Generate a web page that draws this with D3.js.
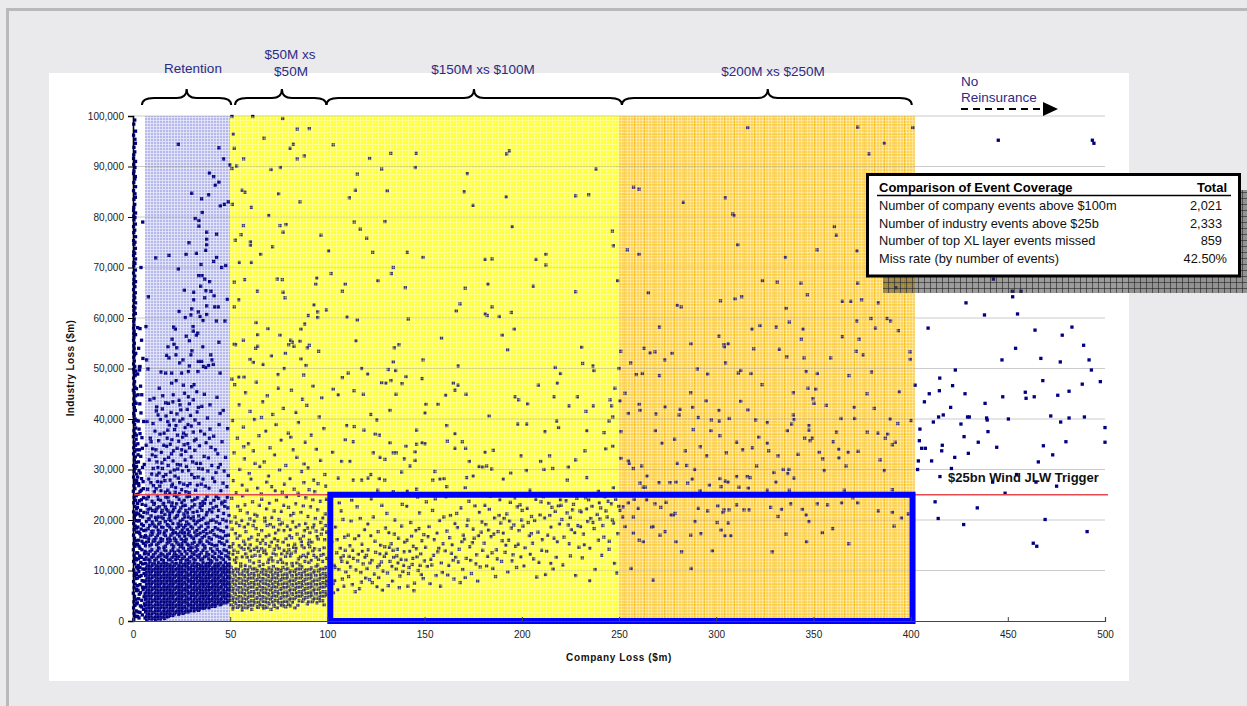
<!DOCTYPE html>
<html><head><meta charset="utf-8">
<script src="https://cdn.jsdelivr.net/npm/d3@7"></script>
<style>
body{margin:0;background:#EAEAEC;}
svg text{font-family:Arial,"Liberation Sans",sans-serif;}
</style></head>
<body><svg id="c" width="1247" height="706"></svg>
<script>
// ---------- axis values ----------
const xTicks=[0,50,100,150,200,250,300,350,400,450,500];
const yTicksBn=[0,10,20,30,40,50,60,70,80,90,100];
const yTickLabels=["0","10,000","20,000","30,000","40,000","50,000","60,000","70,000","80,000","90,000","100,000"];
// layer bands (company loss $m)
const bandNames=["Retention","$50M xs $50M","$150M xs $100M","$200M xs $250M"];
const bandStart=[6.2,50,50,250];
const bandEnd=[50,250,250,402];
const triggerBn=25;
const xlBox=[101.5,401,0,25]; // company x0,x1 / industry y0,y1 ($bn)
// table
const tableRows=["Number of company events above $100m","Number of industry events above $25b","Number of top XL layer events missed","Miss rate (by number of events)"];
const tableVals=["2,021","2,333","859","42.50%"];

// ---------- events: flat [company loss $m, industry loss $bn, ...] ----------
const zeroLossEvents=[0.4,0.3,1.2,0.9,0.6,1.5,1.6,2.0,0.3,2.6,1.0,3.1,0.5,3.8,1.4,4.3,0.8,4.9,0.2,5.5,1.7,6.0,0.6,6.6,1.1,7.3,0.3,7.8,1.5,8.4,0.7,9.0,1.2,9.5,0.4,10.1,1.8,10.7,0.9,11.3,0.3,11.8,1.3,12.4,0.6,13.0,1.6,13.5,0.2,14.1,1.0,14.8,0.5,15.3,1.4,15.9,0.8,16.4,0.3,17.0,1.7,17.6,0.6,18.1,1.1,18.8,0.4,19.3,1.5,19.9,0.7,20.5,1.2,21.0,0.3,21.6,1.8,22.2,0.9,22.7,0.4,23.4,1.3,23.9,0.6,24.5,1.6,25.0,0.2,25.7,1.0,26.2,0.5,26.8,1.4,27.3,0.8,27.9,0.3,28.5,1.7,29.1,0.6,29.6,1.1,30.2,0.4,30.8,1.5,31.4,0.7,31.9,1.2,32.5,0.3,33.1,0.9,33.6,0.4,34.3,1.3,34.8,0.6,35.4,1.6,36.0,0.2,36.5,1.0,37.1,0.5,37.7,1.4,38.2,0.8,38.9,0.3,39.4,1.1,40.0,0.6,40.6,0.4,41.1,1.2,41.7,0.7,42.3,0.3,42.9,0.9,43.4,0.5,44.0,1.3,44.6,0.6,45.2,0.2,45.7,1.0,46.3,0.5,46.9,0.8,47.4,0.3,48.1,1.1,48.6,0.6,49.2,0.4,49.8,0.9,50.4,0.3,50.9,0.7,51.5,0.4,52.2,0.8,52.7,0.3,53.3,0.6,53.9,0.4,54.5,0.7,55.0,0.3,55.6,0.5,56.2,0.4,56.9,0.6,57.4,0.3,58.0,0.5,58.6,0.4,59.3,0.6,59.8,0.4,60.6,0.5,61.5,0.3,62.3,0.4,63.5,0.5,64.4,0.3,65.6,0.4,66.8,0.5,67.6,0.3,68.9,0.4,70.3,0.5,71.0,0.3,72.4,0.4,73.1,0.5,74.6,0.3,75.3,0.4,76.9,0.3,78.1,0.5,79.4,0.4,80.2,0.3,81.3,0.4,81.9,0.5,83.5,0.3,85.2,0.4,86.8,0.3,88.6,0.5,89.1,0.4,90.4,0.3,91.6,0.4,92.3,0.5,93.8,0.3,96.2,0.4,98.4,
1.2,60.9,1.0,62.0,1.3,63.0,0.9,64.0,1.2,65.0,1.0,66.2,1.3,67.2,0.9,68.3,1.2,69.5,1.0,70.8,1.3,71.7,0.9,72.8,1.2,73.8,1.0,75.0,1.3,76.1,0.9,77.4,1.2,78.6,1.0,79.9,1.3,80.8,0.9,82.5,1.2,83.9,1.0,84.6,1.3,86.0,0.9,87.5,1.2,88.0,1.0,89.8,1.3,91.0,0.9,92.9,1.2,94.6,1.0,95.4,1.3,97.0,0.9,99.2,1.6,0.9,1.9,3.4,1.8,6.3,1.9,9.2,1.7,12.1,1.9,15.1,1.8,18.4,1.9,21.4,1.7,24.8,1.9,27.8,1.8,30.6,1.9,33.9,1.7,36.8,1.9,39.7,1.6,43.1,1.8,46.0,1.5,49.5,1.4,53.0,1.3,56.7,
3.1,0.6,4.8,1.2,2.5,1.8,5.4,2.3,3.8,3.0,2.2,3.6,4.5,4.1,5.7,4.8,3.2,5.3,2.6,6.1,4.9,6.7,3.6,7.2,5.5,7.9,2.3,8.5,4.2,9.0,3.0,9.8,5.1,10.3,2.7,11.0,4.0,11.6,5.8,12.2,3.4,12.9,2.4,13.5,4.6,14.1,3.1,14.8,5.3,15.4,2.8,16.0,4.1,16.7,3.5,17.3,5.6,17.9,2.5,18.6,4.4,19.2,3.2,19.9,5.0,20.6,2.9,21.2,3.9,21.9,2.3,22.5,4.7,23.1,3.3,23.8,5.4,24.4,2.6,25.1,4.2,25.9,3.0,26.8,5.2,27.6,2.4,28.5,3.7,29.3,4.9,30.4,2.8,31.5,4.0,32.6,3.3,33.9,2.5,35.1,4.6,36.3,3.1,38.0,2.7,39.6,4.1,41.2,3.5,43.0,2.6,44.8,3.9,46.5,2.4,48.9,3.3,50.3,5.1,52.0,2.9,54.0,4.4,55.6,3.6,57.9,2.4,58.1,4.1,70.0,5.0,79.0,3.4,49.7,7.9,64.2,6.7,58.3,4.5,44.8,3.6,50.4,
2.4,0.9,3.6,1.7,4.4,2.8,5.9,3.4,2.9,4.4,3.9,5.6,5.2,6.2,2.4,7.0,4.7,8.0,3.4,8.8,5.7,9.4,2.5,10.4,3.6,10.6,4.9,11.3,2.8,12.3,4.4,12.6,5.9,13.3,3.6,14.4,2.3,15.2,4.6,15.8,5.8,16.6,3.0,17.6,4.2,18.2,5.3,18.9,2.6,19.8,3.8,20.8,5.6,21.5,2.4,23.3,4.3,24.0,3.6,25.6,5.3,26.2,2.9,27.2,4.4,28.2,3.1,29.8,5.8,31.0,2.6,32.9,4.8,34.2,3.6,37.1,5.5,39.5];

const retentionEvents=[23.3,94.4,44.2,93.7,46.6,91.5,49.9,90.3,39.3,88.7,41.5,88.0,42.3,86.3,44.2,86.9,30.2,84.7,35.3,83.6,38.9,84.4,44.9,82.2,47.0,82.5,49.0,83.0,35.6,80.9,32.0,79.7,33.9,79.3,33.9,78.2,37.9,77.0,43.0,76.6,37.9,75.6,28.8,74.9,37.9,74.5,37.4,73.4,11.7,71.9,18.5,72.4,27.3,72.6,32.6,72.8,43.0,72.0,41.5,71.2,35.0,70.6,47.7,70.4,45.6,70.0,23.3,69.7,33.8,68.4,35.5,68.4,36.9,67.7,39.4,67.2,34.8,66.3,26.4,65.5,31.2,65.1,37.5,65.4,40.1,65.3,31.2,63.6,36.9,64.0,41.7,64.4,48.5,63.7,37.9,62.4,42.0,62.2,43.9,62.2,23.7,61.3,30.2,61.8,33.6,61.2,26.9,60.1,34.5,60.3,29.8,60.6,37.9,60.7,36.0,59.5,42.9,59.4,47.3,59.4,20.9,58.2,21.8,57.8,30.9,58.3,31.0,57.4,33.3,57.0,32.6,56.6,27.4,56.4,29.0,55.5,44.2,55.2,20.1,55.8,21.1,54.8,18.0,54.3,22.5,54.1,35.9,54.3,30.3,53.5,17.3,52.6,22.1,52.7,29.8,52.7,18.5,52.1,40.0,52.7,25.7,51.7,33.6,51.4,35.3,51.4,40.6,51.7,7.0,51.7,7.7,49.9,24.0,51.1,29.0,50.5,36.2,50.4,37.4,50.2,38.9,50.6,41.3,50.8,14.4,49.3,16.8,49.1,19.9,49.1,25.0,49.1,28.5,49.4,33.4,49.4,44.8,49.1,
19.9,47.1,25.9,46.7,30.2,46.4,32.8,45.4,20.7,44.8,28.5,44.4,31.0,43.8,24.2,42.8,12.2,42.4,18.2,43.1,33.6,42.3,39.6,42.8,44.8,41.1,8.7,43.8,
7.5,26.1,9.2,27.4,11.0,25.6,12.3,28.9,13.8,26.7,15.1,30.2,16.4,27.8,17.9,25.9,19.2,29.5,20.6,31.7,21.9,26.4,23.3,28.3,24.8,32.9,26.1,27.1,27.5,30.6,28.9,25.4,30.2,29.0,31.8,33.8,33.1,26.9,34.7,31.2,36.0,28.1,37.6,35.3,39.1,26.3,40.5,30.8,42.0,27.6,43.6,33.1,45.2,25.8,46.9,29.7,48.3,26.6,8.4,31.9,10.1,34.1,11.7,32.6,13.2,35.7,14.6,33.4,16.0,37.2,17.3,34.6,18.7,38.8,20.0,35.9,21.4,37.9,22.7,34.2,24.1,39.6,25.5,36.4,26.8,38.3,28.2,35.1,29.6,40.7,31.0,37.4,32.4,36.0,33.9,39.1,35.4,42.5,36.8,37.0,38.3,40.2,9.6,29.1,12.8,30.4,15.6,28.6,18.3,32.4,21.2,29.9,24.4,30.9,27.1,33.6,30.7,31.5,14.1,39.9,19.6,41.3,23.7,43.7,27.9,41.9,11.3,37.6,16.8,43.2,34.2,34.7,41.5,36.6,44.3,38.9,47.6,32.4,8.9,36.2,26.5,45.1,31.4,46.8,36.7,44.9,22.2,47.6,13.5,46.1,18.9,25.3,25.0,26.0,29.3,27.2,10.5,26.8,16.3,32.0,22.9,36.8,6.8,34.8,7.2,39.5,12.0,41.6,33.5,28.5,38.8,32.3,42.7,29.4,45.8,35.5,49.0,28.8,20.3,27.1,23.9,25.2,14.9,31.3,17.6,36.2,26.3,34.9,30.0,38.6,19.8,33.1,12.6,27.6,9.9,32.9,28.6,29.8,35.7,30.1,40.1,34.4,44.9,31.0,37.2,26.7,32.6,31.2,24.6,41.8,21.0,39.8,17.0,40.6,15.3,44.6,10.8,44.1,26.0,37.2,29.0,43.0,33.0,41.4,39.6,38.0,43.2,44.3,46.4,41.7,48.7,38.1,
8.1,28.1,10.4,30.2,11.9,26.2,13.4,29.3,14.5,27.5,16.9,29.0,18.1,30.8,19.9,26.7,21.6,28.7,22.8,31.0,24.0,27.4,25.4,29.7,26.8,31.9,28.0,26.8,29.9,32.5,31.6,28.4,33.8,30.2,35.1,27.1,36.6,32.6,38.5,29.7,41.0,28.3,43.9,30.4,46.3,27.3,9.3,35.5,11.8,33.9,13.9,37.0,15.8,34.8,17.9,37.8,19.2,35.0,20.8,33.7,22.1,38.7,23.5,35.6,25.0,33.9,27.3,36.8,29.1,34.3,31.6,35.7,34.8,37.6,39.3,36.2,42.4,33.9,12.9,40.8,15.1,42.0,17.9,39.5,20.5,43.4,22.6,41.0,25.6,40.0,28.3,38.9,31.9,39.8,10.3,39.1,14.4,25.8,16.7,25.5,21.7,25.5,27.2,25.6,32.2,25.9,19.1,27.9,23.0,30.1,12.3,31.5,
7.1,24.2,9.8,23.7,12.6,24.8,14.2,23.9,16.9,24.5,18.4,23.6,21.3,24.9,23.7,24.1,25.1,23.5,27.8,24.6,30.4,23.8,33.2,24.4,35.9,23.6,38.1,24.7,41.6,23.9,44.0,24.3,47.3,23.7,
6.6,22.9,8.9,22.3,10.7,23.1,13.5,22.6,15.8,23.3,17.2,22.1,19.9,22.8,22.4,23.2,24.6,22.4,26.9,22.9,29.1,22.2,31.7,23.0,34.5,22.5,36.8,23.3,39.4,22.0,42.9,22.7,45.7,23.2,48.8,22.4,20.8,22.0,11.9,22.0,
7.4,21.4,9.3,20.8,11.4,21.7,13.0,20.6,15.0,21.9,16.4,21.1,18.8,20.7,20.2,21.6,22.9,20.9,24.0,21.8,26.2,21.2,28.4,20.6,30.9,21.5,33.8,20.8,35.4,21.9,37.7,21.0,40.6,21.6,43.5,20.7,46.6,21.3,49.4,20.9,18.0,21.8,27.2,21.9,
6.9,19.7,8.4,20.2,10.2,19.2,12.1,20.0,13.9,19.5,15.5,20.3,17.6,19.1,19.4,19.9,21.6,20.4,23.2,19.3,25.6,20.1,27.6,19.6,29.8,20.3,32.1,19.2,34.0,19.9,36.3,20.4,38.6,19.4,41.2,20.0,44.6,19.3,47.9,19.8,24.7,19.0,31.3,19.9,
7.8,18.3,9.5,17.7,11.1,18.8,12.9,18.0,14.7,18.6,16.2,17.6,18.1,18.9,19.7,18.2,21.8,17.5,23.5,18.7,25.3,18.0,27.0,18.9,28.9,17.7,30.6,18.4,32.8,17.9,35.1,18.8,37.4,18.1,39.8,17.6,42.3,18.5,45.1,17.9,48.2,18.6,13.6,17.5,26.4,17.5,
6.4,16.9,8.1,16.3,10.0,17.2,11.8,16.5,13.3,17.4,15.2,16.1,16.7,16.9,18.6,16.4,20.4,17.3,22.1,16.0,23.9,16.8,25.8,17.4,27.4,16.2,29.4,16.9,31.2,16.3,33.5,17.1,35.6,16.5,38.0,17.3,40.3,16.2,43.1,16.8,46.0,16.4,49.1,17.0,19.3,16.0,34.4,16.0,
7.0,15.6,8.7,14.9,10.4,15.8,12.2,15.1,14.0,15.7,15.9,14.6,17.5,15.4,19.0,15.9,20.9,14.8,22.6,15.5,24.3,14.7,26.0,15.9,27.9,15.2,29.6,14.6,31.5,15.6,33.3,15.0,35.0,15.8,36.9,14.8,39.2,15.4,41.8,14.9,44.4,15.7,47.0,15.1,49.6,14.7,13.1,14.5,25.2,15.3,
6.2,13.8,7.9,13.2,9.7,14.1,11.5,13.5,13.4,14.3,15.3,13.1,16.9,13.9,18.7,13.4,20.5,14.2,22.3,13.0,24.1,13.7,25.9,14.4,27.7,13.3,29.5,13.9,31.4,13.2,33.2,14.1,35.1,13.5,37.0,14.4,39.0,13.1,41.0,13.8,43.3,14.2,45.6,13.4,48.0,13.9,21.4,13.6,30.4,14.5,
6.8,12.5,8.6,12.1,10.3,12.8,12.0,12.3,13.8,12.9,15.6,12.0,17.4,12.6,19.2,12.2,21.0,12.9,22.8,12.4,24.6,12.0,26.4,12.7,28.2,12.2,30.1,12.8,32.0,12.1,33.9,12.6,35.8,12.3,37.8,12.9,39.9,12.0,42.0,12.5,44.2,12.8,46.5,12.2,48.9,12.7,
6.5,11.4,8.7,11.7,11.1,11.3,13.2,11.6,15.6,11.5,17.8,11.2,20.1,11.7,22.4,11.4,24.5,11.6,26.9,11.3,29.2,11.7,31.4,11.5,33.7,11.2,36.0,11.6,38.3,11.4,40.6,11.7,42.8,11.3,45.1,11.5,47.5,11.6,49.6,11.3,
7.4,10.8,9.8,11.0,12.0,10.7,14.3,11.0,16.7,10.9,18.9,10.6,21.2,11.0,23.5,10.8,25.7,10.9,28.0,10.7,30.3,11.0,32.6,10.8,34.8,10.6,37.1,10.9,39.4,11.0,41.7,10.7,44.0,10.9,46.3,10.8,48.6,11.0,
6.2,10.2,8.4,10.4,10.8,10.1,13.0,10.4,15.3,10.3,17.5,10.0,19.9,10.4,22.1,10.2,24.3,10.3,26.6,10.1,28.9,10.4,31.1,10.2,33.4,10.0,35.7,10.3,38.0,10.4,40.3,10.1,42.5,10.3,44.8,10.2,47.2,10.4,49.4,10.1,
7.1,9.6,9.5,9.8,11.7,9.5,14.0,9.8,16.4,9.7,18.6,9.4,20.9,9.8,23.2,9.6,25.4,9.7,27.7,9.5,30.0,9.8,32.3,9.6,34.5,9.4,36.8,9.7,39.1,9.8,41.4,9.5,43.7,9.7,46.0,9.6,48.3,9.8,
6.5,9.0,8.7,9.2,11.1,8.9,13.2,9.2,15.6,9.1,17.8,8.8,20.1,9.2,22.4,9.0,24.5,9.1,26.9,8.9,29.2,9.2,31.4,9.0,33.7,8.8,36.0,9.1,38.3,9.2,40.6,8.9,42.8,9.1,45.1,9.0,47.5,9.2,49.6,8.9,
7.4,8.4,9.8,8.6,12.0,8.3,14.3,8.6,16.7,8.5,18.9,8.2,21.2,8.6,23.5,8.4,25.7,8.5,28.0,8.3,30.3,8.6,32.6,8.4,34.8,8.2,37.1,8.5,39.4,8.6,41.7,8.3,44.0,8.5,46.3,8.4,48.6,8.6,
6.2,7.8,8.4,8.0,10.8,7.7,13.0,8.0,15.3,7.9,17.5,7.6,19.9,8.0,22.1,7.8,24.3,7.9,26.6,7.7,28.9,8.0,31.1,7.8,33.4,7.6,35.7,7.9,38.0,8.0,40.3,7.7,42.5,7.9,44.8,7.8,47.2,8.0,49.4,7.7,
7.1,7.2,9.5,7.4,11.7,7.1,14.0,7.4,16.4,7.3,18.6,7.0,20.9,7.4,23.2,7.2,25.4,7.3,27.7,7.1,30.0,7.4,32.3,7.2,34.5,7.0,36.8,7.3,39.1,7.4,41.4,7.1,43.7,7.3,46.0,7.2,48.3,7.4,
6.5,6.6,8.7,6.8,11.1,6.5,13.2,6.8,15.6,6.7,17.8,6.4,20.1,6.8,22.4,6.6,24.5,6.7,26.9,6.5,29.2,6.8,31.4,6.6,33.7,6.4,36.0,6.7,38.3,6.8,40.6,6.5,42.8,6.7,45.1,6.6,47.5,6.8,49.6,6.5,
7.4,6.0,9.8,6.2,12.0,5.9,14.3,6.2,16.7,6.1,18.9,5.8,21.2,6.2,23.5,6.0,25.7,6.1,28.0,5.9,30.3,6.2,32.6,6.0,34.8,5.8,37.1,6.1,39.4,6.2,41.7,5.9,44.0,6.1,46.3,6.0,48.6,6.2,
6.2,5.4,8.4,5.6,10.8,5.3,13.0,5.6,15.3,5.5,17.5,5.2,19.9,5.6,22.1,5.4,24.3,5.5,26.6,5.3,28.9,5.6,31.1,5.4,33.4,5.2,35.7,5.5,38.0,5.6,40.3,5.3,42.5,5.5,44.8,5.4,47.2,5.6,49.4,5.3,
7.1,4.8,9.5,5.0,11.7,4.7,14.0,5.0,16.4,4.9,18.6,4.6,20.9,5.0,23.2,4.8,25.4,4.9,27.7,4.7,30.0,5.0,32.3,4.8,34.5,4.6,36.8,4.9,39.1,5.0,41.4,4.7,43.7,4.9,46.0,4.8,48.3,5.0,
6.5,4.2,8.7,4.4,11.1,4.1,13.2,4.4,15.6,4.3,17.8,4.0,20.1,4.4,22.4,4.2,24.5,4.3,26.9,4.1,29.2,4.4,31.4,4.2,33.7,4.0,36.0,4.3,38.3,4.4,40.6,4.1,42.8,4.3,45.1,4.2,47.5,4.4,49.6,4.1,
7.4,3.6,9.8,3.8,12.0,3.5,14.3,3.8,16.7,3.7,18.9,3.4,21.2,3.8,23.5,3.6,25.7,3.7,28.0,3.5,30.3,3.8,32.6,3.6,34.8,3.4,37.1,3.7,39.4,3.8,41.7,3.5,44.0,3.7,46.3,3.6,48.6,3.8,
6.2,3.0,8.4,3.2,10.8,2.9,13.0,3.2,15.3,3.1,17.5,2.8,19.9,3.2,22.1,3.0,24.3,3.1,26.6,2.9,28.9,3.2,31.1,3.0,33.4,2.8,35.7,3.1,38.0,3.2,40.3,2.9,42.5,3.1,44.8,3.2,
7.1,2.4,9.5,2.6,11.7,2.3,14.0,2.6,16.4,2.5,18.6,2.2,20.9,2.6,23.2,2.4,25.4,2.5,27.7,2.3,30.0,2.6,32.3,2.4,34.5,2.5,36.8,2.6,39.1,2.6,
6.5,1.8,8.7,2.0,11.1,1.7,13.2,2.0,15.6,1.9,17.8,1.6,20.1,2.0,22.4,1.8,24.5,1.9,26.9,1.8,29.2,2.0,31.4,2.0,33.7,2.1,
7.4,1.2,9.8,1.4,12.0,1.1,14.3,1.4,16.7,1.3,18.9,1.1,21.2,1.4,23.5,1.3,25.7,1.5,
6.2,0.6,8.4,0.8,10.8,0.5,13.0,0.8,15.3,0.7,17.5,0.8,7.1,0.2,9.5,0.4,11.7,0.3,14.0,0.4];

const retentionDenseEvents=[7.9,24.6,11.0,23.3,13.0,24.1,15.5,23.1,18.0,24.4,20.1,23.4,22.5,24.6,26.3,23.9,29.0,24.7,31.8,24.1,34.6,23.2,37.2,24.1,40.0,23.3,42.8,24.6,45.8,23.5,48.5,24.5,
7.8,22.1,10.0,21.9,12.4,22.4,14.7,21.5,16.6,22.6,18.9,21.3,21.5,22.5,23.4,21.6,25.7,22.8,28.0,21.4,30.4,22.6,33.0,21.7,35.6,22.9,38.1,21.5,41.2,22.4,44.0,21.9,47.2,22.7,
8.0,20.2,9.9,19.6,11.6,20.5,13.3,19.2,14.8,20.6,16.6,19.7,18.5,20.1,20.5,19.3,22.4,20.7,24.3,19.8,26.5,20.6,28.7,19.2,31.0,20.6,33.1,19.6,35.3,20.1,37.5,19.3,40.0,19.9,42.8,19.6,46.2,20.1,
6.7,18.0,8.6,18.9,10.3,17.8,12.0,18.6,13.8,17.7,15.4,18.5,17.1,17.9,18.9,18.6,20.7,17.9,22.6,18.4,24.4,17.6,26.1,18.5,28.0,18.1,29.8,18.7,31.8,17.6,34.0,18.4,36.2,17.7,38.6,18.6,41.0,17.9,43.7,18.2,46.6,17.7,
7.2,16.6,9.1,17.0,10.9,16.1,12.6,17.0,14.3,16.3,16.0,17.2,17.8,16.2,19.5,17.0,21.3,16.4,23.0,17.2,24.8,16.2,26.6,16.8,28.4,17.2,30.3,16.6,32.4,16.9,34.6,17.4,36.8,16.8,39.1,16.5,41.7,17.1,44.6,16.6,47.6,16.9,
6.4,14.9,7.9,15.8,9.5,15.2,11.3,15.9,13.1,15.4,14.9,15.9,16.7,14.8,18.3,15.6,20.0,15.1,21.7,15.9,23.4,15.2,25.1,14.8,27.0,15.7,28.7,15.0,30.5,15.3,32.4,14.7,34.2,15.5,36.0,15.1,38.1,15.8,40.5,15.2,43.1,15.0,45.7,15.4,48.3,15.8,
7.0,13.5,8.8,13.8,10.6,13.1,12.5,13.9,14.4,13.4,16.1,14.1,17.8,13.1,19.6,13.9,21.4,13.2,23.2,14.0,25.0,13.2,26.8,13.8,28.6,14.2,30.5,13.5,32.3,13.8,34.2,13.1,36.0,14.0,38.0,13.6,40.0,14.3,42.2,13.4,44.5,13.7,46.8,14.1,49.3,13.5,
7.7,12.2,9.5,12.6,11.2,12.0,12.9,12.7,14.7,12.2,16.5,12.8,18.3,12.1,20.1,12.6,21.9,12.2,23.7,12.8,25.5,12.4,27.3,12.0,29.2,12.6,31.1,12.3,33.0,12.9,34.9,12.1,36.8,12.7,38.9,12.3,41.0,12.8,43.1,12.1,45.4,12.5,47.7,12.9,49.7,12.3,
7.9,11.1,10.2,11.3,12.4,11.0,14.8,11.2,17.0,11.4,19.3,11.1,21.6,11.3,23.9,11.0,26.1,11.2,28.4,11.4,30.7,11.1,33.0,11.3,35.2,11.0,37.5,11.2,39.8,11.4,42.1,11.1,44.3,11.3,46.6,11.0,48.9,11.2,
6.9,10.5,9.1,10.7,11.5,10.4,13.6,10.6,16.0,10.8,18.2,10.5,20.5,10.7,22.8,10.4,25.0,10.6,27.3,10.8,29.6,10.5,31.9,10.7,34.1,10.4,36.4,10.6,38.7,10.8,41.0,10.5,43.2,10.7,45.5,10.4,47.8,10.6,49.8,10.8,
7.9,9.9,10.2,10.1,12.4,9.8,14.8,10.0,17.0,10.2,19.3,9.9,21.6,10.1,23.9,9.8,26.1,10.0,28.4,10.2,30.7,9.9,33.0,10.1,35.2,9.8,37.5,10.0,39.8,10.2,42.1,9.9,44.3,10.1,46.6,9.8,48.9,10.0,
6.9,9.3,9.1,9.5,11.5,9.2,13.6,9.4,16.0,9.6,18.2,9.3,20.5,9.5,22.8,9.2,25.0,9.4,27.3,9.6,29.6,9.3,31.9,9.5,34.1,9.2,36.4,9.4,38.7,9.6,41.0,9.3,43.2,9.5,45.5,9.2,47.8,9.4,49.8,9.6,
7.9,8.7,10.2,8.9,12.4,8.6,14.8,8.8,17.0,9.0,19.3,8.7,21.6,8.9,23.9,8.6,26.1,8.8,28.4,9.0,30.7,8.7,33.0,8.9,35.2,8.6,37.5,8.8,39.8,9.0,42.1,8.7,44.3,8.9,46.6,8.6,48.9,8.8,
6.9,8.1,9.1,8.3,11.5,8.0,13.6,8.2,16.0,8.4,18.2,8.1,20.5,8.3,22.8,8.0,25.0,8.2,27.3,8.4,29.6,8.1,31.9,8.3,34.1,8.0,36.4,8.2,38.7,8.4,41.0,8.1,43.2,8.3,45.5,8.0,47.8,8.2,49.8,8.4,
7.9,7.5,10.2,7.7,12.4,7.4,14.8,7.6,17.0,7.8,19.3,7.5,21.6,7.7,23.9,7.4,26.1,7.6,28.4,7.8,30.7,7.5,33.0,7.7,35.2,7.4,37.5,7.6,39.8,7.8,42.1,7.5,44.3,7.7,46.6,7.4,48.9,7.6,
6.9,6.9,9.1,7.1,11.5,6.8,13.6,7.0,16.0,7.2,18.2,6.9,20.5,7.1,22.8,6.8,25.0,7.0,27.3,7.2,29.6,6.9,31.9,7.1,34.1,6.8,36.4,7.0,38.7,7.2,41.0,6.9,43.2,7.1,45.5,6.8,47.8,7.0,49.8,7.2,
7.9,6.3,10.2,6.5,12.4,6.2,14.8,6.4,17.0,6.6,19.3,6.3,21.6,6.5,23.9,6.2,26.1,6.4,28.4,6.6,30.7,6.3,33.0,6.5,35.2,6.2,37.5,6.4,39.8,6.6,42.1,6.3,44.3,6.5,46.6,6.2,48.9,6.4,
6.9,5.7,9.1,5.9,11.5,5.6,13.6,5.8,16.0,6.0,18.2,5.7,20.5,5.9,22.8,5.6,25.0,5.8,27.3,6.0,29.6,5.7,31.9,5.9,34.1,5.6,36.4,5.8,38.7,6.0,41.0,5.7,43.2,5.9,45.5,5.6,47.8,5.8,49.8,6.0,
7.9,5.1,10.2,5.3,12.4,5.0,14.8,5.2,17.0,5.4,19.3,5.1,21.6,5.3,23.9,5.0,26.1,5.2,28.4,5.4,30.7,5.1,33.0,5.3,35.2,5.0,37.5,5.2,39.8,5.4,42.1,5.1,44.3,5.3,46.6,5.0,48.9,5.2,
6.9,4.5,9.1,4.7,11.5,4.4,13.6,4.6,16.0,4.8,18.2,4.5,20.5,4.7,22.8,4.4,25.0,4.6,27.3,4.8,29.6,4.5,31.9,4.7,34.1,4.4,36.4,4.6,38.7,4.8,41.0,4.5,43.2,4.7,45.5,4.4,47.8,4.6,49.8,4.8,
7.9,3.9,10.2,4.1,12.4,3.8,14.8,4.0,17.0,4.2,19.3,3.9,21.6,4.1,23.9,3.8,26.1,4.0,28.4,4.2,30.7,3.9,33.0,4.1,35.2,3.8,37.5,4.0,39.8,4.2,42.1,3.9,44.3,4.1,46.6,3.8,48.9,4.0,
6.9,3.3,9.1,3.5,11.5,3.2,13.6,3.4,16.0,3.6,18.2,3.3,20.5,3.5,22.8,3.2,25.0,3.4,27.3,3.6,29.6,3.3,31.9,3.5,34.1,3.2,36.4,3.4,38.7,3.6,41.0,3.3,43.2,3.5,45.5,3.4,47.8,3.6,
7.9,2.7,10.2,2.9,12.4,2.6,14.8,2.8,17.0,3.0,19.3,2.7,21.6,2.9,23.9,2.6,26.1,2.8,28.4,3.0,30.7,2.7,33.0,2.9,35.2,2.6,37.5,2.8,39.8,3.0,42.1,2.9,
6.9,2.1,9.1,2.3,11.5,2.0,13.6,2.2,16.0,2.4,18.2,2.1,20.5,2.3,22.8,2.0,25.0,2.2,27.3,2.4,29.6,2.1,31.9,2.3,34.1,2.4,36.4,2.5,
7.9,1.5,10.2,1.7,12.4,1.4,14.8,1.6,17.0,1.8,19.3,1.5,21.6,1.7,23.9,1.6,26.1,1.7,28.4,1.8,
6.9,0.9,9.1,1.1,11.5,0.8,13.6,1.0,16.0,1.2,18.2,0.9,20.5,1.1,8.0,0.5,10.3,0.6,12.6,0.5,16.2,0.5];

const layer1Events=[50.9,99.9,61.6,99.9,77.0,99.5,51.6,96.4,67.4,95.6,84.5,97.4,90.7,97.5,52.1,93.6,80.8,93.6,82.5,94.4,50.9,89.6,53.3,90.1,56.9,91.5,71.0,89.4,75.8,89.8,84.5,91.5,88.1,92.1,56.1,85.3,57.6,84.9,74.9,84.6,51.1,82.5,60.9,81.9,85.9,83.0,69.8,80.3,56.8,78.3,75.6,78.3,78.7,78.5,77.2,77.0,55.6,76.5,52.6,75.4,60.4,75.1,60.4,74.4,71.8,74.1,96.7,76.4,65.7,72.6,100.6,73.3,54.7,71.0,60.9,71.0,52.1,67.1,57.4,67.6,74.2,67.7,76.8,67.6,94.5,67.9,94.0,66.7,77.2,65.1,64.0,65.3,78.2,64.0,54.4,63.6,52.1,62.2,93.1,62.6,95.0,61.2,95.0,60.1,99.5,61.6,90.2,60.5,63.3,59.1,69.4,57.9,88.3,58.8,86.4,57.8,64.1,56.7,75.6,56.6,81.1,55.6,81.9,55.2,85.9,55.4,56.8,55.6,63.1,54.0,64.1,54.4,80.1,54.7,82.8,54.4,89.7,54.1,90.7,54.6,95.5,53.4,52.1,54.8,52.8,54.7,71.2,52.5,78.4,53.0,86.4,51.9,60.2,51.8,61.9,51.2,66.9,50.8,77.8,50.0,89.0,50.6,57.1,48.3,74.6,48.8,87.8,48.7,50.9,47.9,54.4,48.3,
52.3,46.8,57.9,45.2,63.4,47.3,69.1,44.6,74.8,46.1,81.5,45.7,87.2,43.9,92.6,46.5,97.1,44.2,54.6,42.8,60.2,41.5,66.7,43.4,71.9,40.9,77.3,42.1,83.8,41.3,89.4,42.7,95.8,40.4,51.2,39.7,56.8,38.4,62.5,39.9,68.3,37.6,73.6,38.9,79.9,37.2,85.1,39.3,91.7,36.8,98.2,38.1,53.7,36.2,59.4,35.1,64.8,36.7,70.5,34.3,76.2,35.8,82.4,33.9,88.6,35.4,94.3,34.0,52.0,33.3,57.3,32.1,61.9,33.7,67.5,31.5,72.8,32.9,78.6,30.8,84.3,32.4,90.1,30.3,96.5,31.8,54.9,30.0,59.8,29.2,65.2,30.6,69.7,28.7,75.4,29.9,80.8,28.2,86.7,29.6,92.9,27.9,98.7,29.0,51.6,27.8,56.2,26.9,60.7,28.1,64.1,26.3,68.8,27.5,73.2,25.8,77.9,27.1,82.9,26.1,87.9,27.4,93.5,25.6,99.1,26.7,53.1,25.4,58.6,25.9,66.0,25.2,71.3,26.6,76.8,25.5,84.9,25.3,90.6,26.0,95.2,27.2,62.8,31.2,57.0,34.5,66.1,40.3,81.2,36.4,88.0,31.1,
50.8,24.3,53.9,22.7,56.4,24.8,58.8,21.4,61.5,23.6,63.9,20.8,66.2,24.1,68.7,22.2,71.4,20.5,73.8,23.9,76.3,21.7,78.9,24.6,81.2,20.9,83.7,23.2,86.4,21.5,88.9,24.4,91.3,22.6,93.8,20.3,96.4,23.7,98.9,21.2,52.5,20.6,55.2,21.9,60.1,20.2,65.0,22.9,70.2,23.3,75.1,20.1,80.0,22.5,85.2,24.9,90.0,20.7,95.0,22.0,57.6,23.0,62.7,21.1,67.8,20.4,72.6,21.8,77.5,22.9,82.6,21.3,87.6,22.8,92.5,24.0,97.6,20.4,99.5,24.1,
50.4,19.6,52.7,17.3,54.8,18.9,56.9,15.8,59.2,19.2,61.0,16.6,63.3,18.3,65.6,15.4,67.9,19.7,70.0,17.0,72.3,18.6,74.5,15.9,76.8,19.4,78.7,16.3,81.0,18.1,83.2,15.2,85.5,19.0,87.7,16.8,89.8,18.4,92.0,15.6,94.2,17.8,96.6,19.5,98.6,16.1,51.5,15.3,53.6,16.4,55.9,19.9,58.1,17.7,60.3,15.1,62.4,19.8,64.5,17.1,66.7,16.0,69.0,18.9,71.2,15.6,73.3,17.4,75.6,19.1,77.7,17.9,79.9,15.0,82.1,19.6,84.4,17.2,86.6,15.7,88.8,19.3,91.0,17.5,93.1,19.0,95.3,16.2,97.4,18.2,99.6,17.6,57.6,15.2,68.4,16.7,80.5,16.9,90.7,16.0,
50.6,14.7,52.2,12.1,53.9,13.6,55.4,11.3,57.1,14.2,58.7,12.6,60.4,13.9,62.0,11.5,63.7,14.6,65.3,12.9,67.0,11.2,68.6,13.3,70.3,14.8,71.9,11.9,73.6,13.1,75.2,14.4,76.9,11.6,78.5,12.8,80.2,14.1,81.8,11.4,83.5,13.7,85.1,12.3,86.8,14.9,88.4,11.8,90.1,13.4,91.7,12.0,93.4,14.3,95.0,11.1,96.7,13.0,98.3,14.5,99.7,12.4,51.4,13.2,54.6,14.9,57.8,11.0,61.2,12.8,64.5,13.8,67.8,14.0,71.1,12.5,74.4,11.7,77.7,14.0,81.0,12.9,84.3,11.5,87.6,13.0,90.9,14.7,94.2,12.6,97.5,11.8,52.9,11.6,56.2,12.7,59.5,14.4,62.8,13.0,66.1,14.3,69.4,11.6,72.7,14.2,76.0,12.2,79.3,13.5,82.6,14.6,85.9,11.1,89.2,12.7,92.5,13.9,95.9,14.1,
50.5,10.6,52.9,10.3,55.4,10.8,57.6,10.2,60.1,10.7,62.7,10.4,65.0,10.9,67.4,10.1,69.9,10.5,72.2,10.8,74.8,10.2,77.1,10.6,79.6,10.4,82.0,10.9,84.5,10.3,86.9,10.7,89.3,10.1,91.8,10.5,94.2,10.8,96.7,10.3,99.1,10.6,
51.3,9.5,53.8,9.8,56.2,9.3,58.7,9.7,61.1,9.4,63.5,9.9,66.0,9.6,68.4,9.2,70.9,9.7,73.3,9.5,75.8,9.9,78.2,9.3,80.7,9.6,83.1,9.8,85.6,9.4,88.0,9.7,90.5,9.2,92.9,9.6,95.4,9.9,97.8,9.4,
50.2,8.6,52.6,8.9,55.1,8.4,57.5,8.8,59.9,8.5,62.4,9.0,64.8,8.7,67.2,8.3,69.7,8.8,72.1,8.6,74.6,9.0,77.0,8.4,79.4,8.7,81.9,8.9,84.3,8.5,86.8,8.8,89.2,8.3,91.7,8.7,94.1,9.0,96.6,8.5,99.0,8.8,
51.0,7.7,53.4,8.0,55.9,7.5,58.3,7.9,60.8,7.6,63.2,8.1,65.7,7.8,68.1,7.4,70.6,7.9,73.0,7.7,75.5,8.1,77.9,7.5,80.4,7.8,82.8,8.0,85.3,7.6,87.7,7.9,90.2,7.4,92.6,7.8,95.1,8.1,97.5,7.6,99.6,7.9,
50.4,6.8,52.8,7.1,55.3,6.6,57.7,7.0,60.2,6.7,62.6,7.2,65.1,6.9,67.5,6.5,70.0,7.0,72.4,6.8,74.9,7.2,77.3,6.6,79.8,6.9,82.2,7.1,84.7,6.7,87.1,7.0,89.6,6.5,92.0,6.9,94.5,7.2,96.9,6.7,99.3,7.0,
51.2,5.9,53.6,6.2,56.1,5.7,58.5,6.1,61.0,5.8,63.4,6.3,65.9,6.0,68.3,5.6,70.8,6.1,73.2,5.9,75.7,6.3,78.1,5.7,80.6,6.0,83.0,6.2,85.5,5.8,87.9,6.1,90.4,5.6,92.8,6.0,95.3,6.3,97.7,5.8,
50.3,5.0,52.7,5.3,55.2,4.8,57.6,5.2,60.1,4.9,62.5,5.4,65.0,5.1,67.4,4.7,69.9,5.2,72.3,5.0,74.8,5.4,77.2,4.8,79.7,5.1,82.1,5.3,84.6,4.9,87.0,5.2,89.5,4.7,91.9,5.1,94.4,5.4,96.8,4.9,99.2,5.2,
51.1,4.1,53.5,4.4,56.0,3.9,58.4,4.3,60.9,4.0,63.3,4.5,65.8,4.2,68.2,3.8,70.7,4.3,73.1,4.1,75.6,4.5,78.0,3.9,80.5,4.2,82.9,4.4,85.4,4.0,87.8,4.3,90.3,3.8,92.7,4.2,95.2,4.5,97.6,4.0,
50.5,3.2,52.9,3.5,55.4,3.0,57.8,3.4,60.3,3.1,62.7,3.6,65.2,3.3,67.6,2.9,70.1,3.4,72.5,3.2,75.0,3.6,77.4,3.0,79.9,3.3,84.8,3.1,89.7,3.4,94.6,3.6,98.3,3.2,
51.3,2.4,53.7,2.7,56.2,2.2,58.6,2.6,61.1,2.3,64.4,2.7,67.3,2.5,71.0,2.3,74.2,2.6,78.6,2.8,83.3,2.6];

const layer1DenseEvents=[51.7,10.0,54.2,10.2,56.7,9.9,59.1,10.1,61.6,10.3,64.0,10.0,66.5,10.2,68.9,9.9,71.4,10.1,73.8,10.3,76.3,10.0,78.7,10.2,81.2,9.9,83.6,10.1,86.1,10.3,88.5,10.0,91.0,10.2,93.4,9.9,95.9,10.1,98.3,10.3,
52.2,9.1,54.7,9.3,57.2,9.0,59.6,9.2,62.1,9.4,64.5,9.1,67.0,9.3,69.4,9.0,71.9,9.2,74.3,9.4,76.8,9.1,79.2,9.3,81.7,9.0,84.1,9.2,86.6,9.4,89.0,9.1,91.5,9.3,93.9,9.0,96.4,9.2,98.8,9.4,
51.7,8.2,54.2,8.4,56.7,8.1,59.1,8.3,61.6,8.5,64.0,8.2,66.5,8.4,68.9,8.1,71.4,8.3,73.8,8.5,76.3,8.2,78.7,8.4,81.2,8.1,83.6,8.3,86.1,8.5,88.5,8.2,91.0,8.4,93.4,8.1,95.9,8.3,98.3,8.5,
52.2,7.3,54.7,7.5,57.2,7.2,59.6,7.4,62.1,7.6,64.5,7.3,67.0,7.5,69.4,7.2,71.9,7.4,74.3,7.6,76.8,7.3,79.2,7.5,81.7,7.2,84.1,7.4,86.6,7.6,89.0,7.3,91.5,7.5,93.9,7.2,96.4,7.4,98.8,7.6,
51.7,6.4,54.2,6.6,56.7,6.3,59.1,6.5,61.6,6.7,64.0,6.4,66.5,6.6,68.9,6.3,71.4,6.5,73.8,6.7,76.3,6.4,78.7,6.6,81.2,6.3,83.6,6.5,86.1,6.7,88.5,6.4,91.0,6.6,93.4,6.3,95.9,6.5,98.3,6.7,
52.2,5.5,54.7,5.7,57.2,5.4,59.6,5.6,62.1,5.8,64.5,5.5,67.0,5.7,69.4,5.4,71.9,5.6,74.3,5.8,76.8,5.5,79.2,5.7,81.7,5.4,84.1,5.6,86.6,5.8,89.0,5.5,91.5,5.7,93.9,5.4,96.4,5.6,98.8,5.8,
51.7,4.6,54.2,4.8,56.7,4.5,59.1,4.7,61.6,4.9,64.0,4.6,66.5,4.8,68.9,4.5,71.4,4.7,73.8,4.9,76.3,4.6,78.7,4.8,81.2,4.5,83.6,4.7,86.1,4.9,88.5,4.6,91.0,4.8,93.4,4.5,95.9,4.7,98.3,4.9,
52.2,3.7,54.7,3.9,57.2,3.6,59.6,3.8,62.1,4.0,64.5,3.7,67.0,3.9,69.4,3.6,71.9,3.8,74.3,4.0,76.8,3.7,79.2,3.9,82.0,3.7,87.3,3.9,92.2,3.8,96.0,4.0,
51.7,2.8,54.2,3.0,56.7,2.7,59.1,2.9,61.6,3.1,64.0,2.8,66.5,3.0,68.9,2.7,72.6,2.9,76.3,3.1,81.0,3.0,
51.0,18.2,53.2,19.4,55.0,16.9,57.3,18.6,59.6,16.2,61.8,18.9,63.9,16.0,66.2,17.9,68.2,15.3,70.6,19.1,72.8,16.3,74.9,18.0,77.2,15.6,79.4,18.8,81.6,16.5,83.8,18.6,86.0,16.3,88.2,17.9,90.3,15.3,92.5,18.5,94.7,16.7,96.9,17.2,99.0,18.9,
51.9,14.0,53.3,12.5,55.7,14.5,58.0,13.3,60.0,11.9,62.4,14.2,64.9,11.8,67.3,13.6,69.8,12.2,72.1,13.4,74.0,14.9,76.5,13.3,78.9,11.3,81.4,13.4,83.9,14.4,86.2,12.7,88.0,14.5,90.5,11.6,93.0,13.0,95.4,12.2,98.0,13.2];

const layer2Events=[103.0,94.3,132.6,92.6,145.7,92.6,121.7,91.6,127.9,89.5,145.2,89.8,192.2,92.5,193.6,93.1,238.2,89.5,115.4,88.5,172.0,88.6,114.4,85.3,111.3,83.8,130.8,85.2,170.4,85.0,174.9,82.3,192.0,84.0,227.7,84.2,234.4,84.4,113.8,79.0,116.9,77.6,120.2,75.8,129.6,79.1,123.3,73.0,141.1,73.0,149.2,72.0,195.1,78.1,181.1,71.6,184.7,71.7,207.3,71.6,212.4,72.6,212.4,70.5,133.9,70.0,132.9,68.8,101.9,68.8,126.0,67.4,109.2,66.7,107.7,65.3,140.1,66.0,170.9,65.9,182.6,66.7,205.9,66.3,227.7,65.2,168.2,62.8,166.3,61.4,184.7,62.2,181.2,60.8,182.2,60.5,188.4,60.3,194.6,61.1,110.1,60.2,115.4,59.6,141.6,59.8,196.1,57.8,189.9,56.6,158.7,56.0,114.7,55.5,136.8,54.7,134.4,54.1,192.7,53.7,230.8,54.2,149.2,51.7,133.9,51.3,231.3,51.0,167.3,50.5,117.6,50.0,131.3,49.8,135.1,49.6,217.2,50.2,219.9,49.0,236.6,50.5,237.1,49.6,110.7,49.1,107.7,48.2,120.7,48.9,140.4,48.4,132.7,47.6,148.7,48.0,246.6,77.2,247.1,74.3,249.3,67.4,
103.0,45.9,105.6,44.8,113.7,45.6,118.5,44.9,122.3,40.9,125.4,39.8,132.2,41.7,135.3,44.9,127.9,47.2,130.1,47.1,138.4,47.0,150.7,42.9,156.9,42.9,164.8,47.1,167.2,46.7,165.6,45.7,160.8,44.7,171.3,44.9,109.9,38.7,113.8,38.5,113.3,35.5,109.2,35.9,102.7,33.4,107.3,31.6,111.6,31.6,105.6,28.3,113.3,27.9,120.9,28.3,122.3,29.0,126.7,28.2,124.6,37.0,126.7,36.8,132.2,35.3,133.9,33.3,135.4,33.3,127.1,32.4,129.6,32.0,139.6,32.1,145.1,31.8,145.9,35.0,148.7,35.3,150.2,35.1,145.9,37.8,145.1,33.5,142.5,30.7,141.1,25.7,145.9,26.1,125.9,25.9,129.5,27.9,155.3,29.6,157.9,28.1,154.2,27.9,160.0,28.2,161.4,26.6,170.9,26.4,171.6,28.4,175.0,28.7,179.9,30.5,181.9,30.7,178.0,30.6,184.5,30.1,190.5,28.1,194.3,29.3,202.3,29.8,204.2,25.9,211.4,30.0,215.9,30.2,223.9,30.5,223.4,27.9,233.4,28.4,239.4,25.7,247.1,26.4,181.1,33.4,185.3,33.8,171.1,34.2,165.6,34.2,161.7,35.6,173.0,31.6,199.6,32.7,209.7,31.6,214.3,32.7,227.7,31.9,243.2,34.1,246.8,34.6,232.5,33.7,197.9,39.0,202.5,39.0,211.9,37.5,217.9,39.6,218.9,38.3,233.4,37.7,242.3,37.3,244.9,39.6,246.8,40.4,196.5,44.4,198.4,43.8,203.0,43.0,208.5,46.7,218.3,47.1,216.6,44.4,224.3,42.6,228.6,44.4,233.0,41.5,236.8,42.6,245.4,43.8,247.9,46.1,246.2,42.6,183.2,40.6,165.6,37.1,169.4,35.5,161.4,38.7,150.2,41.2,140.4,34.6,118.8,37.8,123.6,33.3,138.2,29.5,117.6,27.9,133.9,25.6,
100.8,12.3,101.6,9.1,102.3,15.7,102.9,7.4,103.5,11.0,104.2,18.6,104.8,13.5,105.3,6.2,105.9,10.2,106.6,14.4,107.1,21.8,107.7,8.3,108.2,12.9,108.9,16.6,109.5,9.7,101.2,19.4,102.0,13.9,103.1,5.6,104.0,10.6,105.0,16.1,106.1,23.4,107.4,11.8,108.5,6.9,109.2,14.0,103.8,8.0,106.9,12.5,101.9,11.4,108.0,20.1,
110.3,11.6,110.9,8.8,111.6,14.9,112.2,19.8,112.8,7.2,113.4,12.4,114.1,16.3,114.7,10.1,115.3,22.6,115.9,13.2,116.5,6.4,117.2,9.6,117.8,15.2,118.4,11.3,119.1,18.1,119.7,8.5,110.7,17.0,111.9,10.7,113.0,14.0,114.3,5.8,115.6,11.9,116.9,20.3,118.0,13.8,119.3,12.6,112.5,23.9,117.5,7.7,111.2,12.8,116.1,16.9,
120.4,10.4,121.0,14.1,121.7,8.2,122.3,16.9,122.9,12.0,123.6,20.6,124.2,9.3,124.8,13.6,125.5,6.8,126.1,17.7,126.7,11.1,127.4,15.0,128.0,22.9,128.6,9.9,129.3,12.8,129.9,18.4,120.8,19.2,121.9,11.5,123.1,7.6,124.5,15.8,125.8,10.7,127.0,13.3,128.3,6.1,129.5,14.7,122.6,24.2,126.4,8.6,120.1,13.0,127.8,11.7,
130.3,13.4,130.9,9.5,131.6,17.5,132.2,11.8,132.8,15.3,133.5,7.9,134.1,12.6,134.7,20.0,135.4,10.3,136.0,14.2,136.6,16.4,137.3,8.9,137.9,12.2,138.5,23.1,139.2,11.0,139.8,15.6,130.6,21.3,131.9,14.6,133.2,10.8,134.4,17.2,135.7,12.9,137.0,6.6,138.2,18.8,139.5,13.7,131.3,7.0,136.3,11.5,133.8,14.0,138.8,9.8,
140.4,12.1,141.0,16.0,141.7,9.4,142.3,13.8,142.9,19.5,143.6,11.2,144.2,14.8,144.8,7.5,145.5,17.9,146.1,12.7,146.7,10.0,147.4,21.4,148.0,13.3,148.6,15.9,149.3,8.4,149.9,11.9,140.8,22.7,142.0,10.6,143.3,16.8,144.5,6.0,145.8,14.3,147.1,18.3,148.3,9.2,149.6,17.1,141.4,6.9,146.4,24.5,143.9,12.4,147.7,11.0,
150.5,14.6,151.4,10.8,152.3,18.7,153.2,12.2,154.1,21.9,155.0,16.1,155.9,9.0,156.8,13.7,157.7,19.9,158.6,11.5,159.5,15.3,150.9,23.6,152.8,7.4,154.6,13.0,156.4,17.4,158.2,6.9,159.9,20.6,151.8,16.7,153.7,11.1,155.5,24.2,157.3,14.4,159.1,9.6,
160.6,13.9,161.5,17.8,162.4,11.0,163.3,20.9,164.2,15.1,165.1,8.3,166.0,12.6,166.9,18.5,167.8,14.2,168.7,22.4,169.6,10.2,161.0,24.6,162.9,16.5,164.7,12.0,166.5,21.3,168.3,7.6,169.9,17.0,161.9,9.1,163.8,13.4,165.6,19.3,167.4,11.7,169.2,15.7,
170.5,16.2,171.4,12.4,172.3,20.0,173.2,14.7,174.1,9.4,175.0,18.2,175.9,22.8,176.8,13.1,177.7,16.9,178.6,10.7,179.5,19.6,170.9,8.6,172.8,23.7,174.6,15.5,176.4,11.3,178.2,21.5,179.9,14.0,171.8,18.9,173.7,12.0,175.5,16.4,177.3,7.9,179.1,17.6,
180.6,15.4,181.5,19.1,182.4,12.8,183.3,22.1,184.2,16.7,185.1,10.4,186.0,20.4,186.9,14.1,187.8,17.7,188.7,24.0,189.6,11.8,181.0,22.9,182.9,18.0,184.7,13.5,186.5,8.8,188.3,20.9,189.9,15.9,181.9,10.9,183.8,24.7,185.6,17.2,187.4,12.3,189.2,19.4,
190.5,17.4,191.4,13.6,192.3,21.2,193.2,16.0,194.1,23.5,195.0,11.9,195.9,19.0,196.8,14.8,197.7,22.6,198.6,17.9,199.5,12.7,190.9,20.3,192.8,9.7,194.6,18.4,196.4,24.4,198.2,15.2,199.9,20.0,191.8,15.0,193.7,19.8,195.5,13.1,197.3,10.6,199.1,23.0,
200.6,18.8,201.7,14.5,202.8,22.3,203.9,16.9,205.0,20.7,206.1,12.3,207.2,24.1,208.3,17.6,209.4,21.0,201.1,10.9,203.3,19.5,205.5,15.4,207.7,8.7,209.9,23.6,202.2,24.8,204.4,13.2,206.6,19.9,208.8,11.6,200.2,21.9,204.9,17.3,
210.6,16.1,211.7,20.4,212.8,13.8,213.9,23.3,215.0,18.6,216.1,10.3,217.2,21.7,218.3,15.7,219.4,19.2,211.1,24.6,213.3,17.0,215.5,22.5,217.7,12.6,219.9,24.0,212.2,9.2,214.4,20.9,216.6,16.4,218.8,22.8,210.2,14.0,214.9,11.4,
220.6,20.1,221.7,16.6,222.8,23.8,223.9,19.0,225.0,12.9,226.1,22.0,227.2,17.5,228.3,24.3,229.4,14.6,221.1,11.1,223.3,21.4,225.5,18.1,227.7,9.0,229.9,21.8,222.2,24.9,224.4,15.3,226.6,23.1,228.8,18.9,220.2,22.9,224.9,20.5,
230.6,21.6,231.7,17.2,232.8,24.4,233.9,19.7,235.0,14.4,236.1,22.7,237.2,18.3,238.3,24.8,239.4,16.0,231.1,12.5,233.3,22.2,235.5,20.3,237.7,10.2,239.9,23.4,232.2,15.1,234.4,24.0,236.6,19.5,238.8,21.1,230.2,18.7,234.9,8.0,
240.6,22.4,241.7,18.9,242.8,24.6,243.9,20.6,245.0,15.8,246.1,23.2,247.2,19.4,248.3,24.1,249.4,17.3,241.1,13.0,243.3,21.8,245.5,24.9,247.7,11.4,249.9,22.7,242.2,16.6,244.4,23.7,246.6,20.0,248.8,9.5,240.2,20.2,244.9,14.2];

const layer3Events=[316.2,97.7,372.8,97.8,401.1,97.7,386.5,94.6,378.6,92.5,257.5,85.9,260.3,85.5,304.7,83.8,283.1,82.9,308.5,80.6,309.2,80.3,360.8,78.1,361.8,76.4,311.1,74.5,351.9,73.5,372.4,73.3,254.3,73.5,260.3,72.6,335.6,72.0,323.8,67.4,331.4,67.1,343.6,66.9,372.8,66.9,265.1,65.0,346.9,64.6,280.0,62.5,282.0,62.2,302.2,63.4,309.7,63.8,313.1,64.2,364.9,63.3,369.2,63.3,374.8,63.6,383.4,63.0,336.0,61.9,372.3,59.4,379.6,59.9,381.9,58.0,387.9,59.9,389.7,59.4,393.7,57.5,270.8,58.2,322.5,58.5,330.9,58.2,337.6,59.2,318.4,57.8,344.7,57.8,343.8,55.8,364.9,56.3,373.5,55.8,301.4,56.4,304.0,54.7,306.2,54.9,304.2,54.3,262.9,54.0,287.0,54.9,250.9,53.4,266.0,53.1,268.5,53.3,277.3,53.0,256.0,51.1,273.5,51.7,319.3,53.9,332.5,53.8,336.3,52.3,345.2,52.1,358.9,52.1,372.0,53.4,375.6,52.7,399.7,53.3,399.8,51.8,304.8,51.1,290.3,49.9,250.0,50.0,258.9,48.8,262.0,49.0,270.8,48.6,295.6,48.9,311.4,49.1,312.6,49.6,317.9,49.0,346.3,49.4,352.0,49.0,368.3,48.6,379.9,49.3,392.5,66.0,
286.9,45.2,294.8,43.6,312.6,43.5,323.6,46.8,339.7,45.2,347.2,46.1,351.2,45.9,349.8,44.0,350.3,43.1,356.6,42.7,377.6,45.0,394.2,45.4,269.0,41.0,273.7,42.4,281.4,41.9,287.9,42.3,280.9,40.8,290.8,40.3,301.4,41.7,297.5,39.8,301.6,39.6,306.7,40.1,316.3,41.8,320.3,39.8,326.3,39.3,338.8,39.0,340.0,39.9,339.7,40.8,347.7,38.7,347.7,37.8,364.2,40.1,371.2,40.1,371.0,42.3,381.3,42.1,389.5,40.0,393.4,39.1,400.2,39.7,268.7,37.7,278.6,36.0,288.2,37.9,297.3,37.7,301.9,36.7,310.5,35.4,321.9,36.4,326.3,35.2,336.6,37.7,345.5,36.2,348.3,35.7,349.4,36.2,360.2,35.5,361.9,37.4,377.7,37.4,383.2,37.2,387.0,36.2,388.2,37.0,390.6,34.9,392.1,35.4,272.1,35.2,284.1,33.7,291.8,34.5,295.1,32.7,305.2,33.3,313.6,33.9,318.6,34.3,327.0,33.7,331.8,32.7,342.1,33.0,353.0,33.4,354.8,32.1,363.0,34.0,363.1,32.3,367.9,33.4,373.0,33.6,384.3,31.9,280.0,31.2,284.8,30.8,288.9,30.0,264.4,28.7,270.6,27.4,276.2,27.4,279.3,27.5,285.3,27.3,287.7,28.1,296.5,26.9,301.9,28.2,304.7,27.7,306.1,27.5,310.5,28.6,311.7,26.5,316.0,28.6,317.4,28.4,320.8,30.7,329.7,29.4,334.5,30.0,337.4,30.0,336.8,29.2,340.0,28.3,330.7,27.5,326.3,25.9,337.6,25.9,355.6,29.8,366.8,30.7,365.9,25.9,386.5,29.8,390.6,26.0,263.5,26.5,291.7,25.8,302.5,26.6,316.5,26.3,
250.5,43.6,253.1,45.1,254.8,41.1,260.4,42.9,260.8,41.7,251.0,37.5,255.3,31.2,257.4,30.2,254.8,31.7,251.0,32.2,261.7,30.7,260.8,27.3,262.5,26.5,
264.2,24.0,268.5,23.2,271.5,22.5,274.2,23.5,278.0,21.0,278.8,21.3,289.1,19.7,290.8,22.3,295.6,21.8,300.8,22.8,303.5,21.5,304.0,22.0,306.6,22.0,310.5,23.0,314.3,22.0,316.9,22.0,328.0,22.5,333.6,22.1,338.3,23.2,344.3,22.1,352.0,23.2,357.3,23.0,364.5,23.4,372.8,23.4,346.3,21.0,331.8,20.7,300.5,19.5,306.2,19.4,302.5,18.0,304.5,16.9,307.5,16.9,292.1,17.3,286.9,17.0,271.1,17.0,273.7,17.7,267.6,18.7,266.8,18.6,276.8,21.0,279.3,15.7,282.2,13.7,287.1,10.4,298.0,13.9,267.6,8.1,328.8,13.7,335.9,17.2,346.5,15.7,347.7,19.7,354.6,17.5,359.9,18.3,368.2,15.3,383.4,21.8,390.6,21.5,391.5,18.8,395.3,20.4,398.8,21.2,370.3,24.4,262.5,15.7,
252.2,22.6,254.8,23.4,259.9,22.3,257.8,24.1,251.9,20.6,257.4,20.6,253.1,18.7,257.4,17.4,260.4,16.0,256.2,10.4,250.5,21.9];

const noReinsuranceEvents=[402.3,46.7,409.6,45.0,414.8,45.6,421.6,46.6,428.0,45.0,407.1,43.4,420.6,42.3,438.3,43.1,447.4,44.4,459.4,44.1,463.6,44.4,468.0,47.6,475.7,44.7,481.5,45.5,488.3,46.9,497.6,47.4,411.7,39.4,414.4,40.4,416.8,40.8,425.9,39.0,429.3,40.4,430.2,40.4,439.1,40.2,439.4,39.8,450.3,40.0,472.1,40.6,477.2,39.4,481.5,40.2,489.4,40.4,500.0,38.3,500.0,35.4,404.8,38.0,404.5,35.7,405.7,34.2,407.6,34.2,416.3,34.8,416.0,33.7,422.7,32.4,427.5,36.5,434.8,35.4,439.8,37.5,444.3,34.4,429.7,33.2,465.7,31.5,468.3,34.7,473.1,32.9,479.9,35.5,404.0,31.7,403.6,30.0,410.8,31.7,421.0,30.2,415.1,28.6,442.2,27.5,454.5,29.0,464.5,27.5,475.1,26.7,448.6,25.3,412.6,23.6,434.3,22.4,414.2,20.3,427.3,19.1,469.2,20.1,490.8,17.7,463.1,15.4,464.9,14.8,
445.1,95.2,493.5,95.2,494.3,94.6,442.6,67.7,452.3,65.3,456.8,65.3,452.5,64.2,409.0,58.0,428.5,63.0,438.0,60.6,455.0,60.8,464.0,57.6,478.0,56.6,483.0,58.2,489.0,54.6,491.8,51.7,493.0,49.7,477.0,51.3,467.0,52.0,447.0,51.7,454.0,54.0,423.0,49.7,415.0,48.1,459.0,45.3];

// ---------- helpers ----------
function pairs(a){const o=[];for(let i=0;i+1<a.length;i+=2)o.push({x:a[i],y:a[i+1]});return o;}
const events=[].concat(pairs(zeroLossEvents),pairs(retentionEvents),pairs(retentionDenseEvents),pairs(layer1Events),pairs(layer1DenseEvents),pairs(layer2Events),pairs(layer3Events),pairs(noReinsuranceEvents));

const svg=d3.select("#c");
const W=1247,H=706;
const x=d3.scaleLinear().domain([0,500]).range([133,1105]);
const y=d3.scaleLinear().domain([0,100]).range([621,116]);

// defs / patterns
const defs=svg.append("defs");
function grid(id,size,base,lineCol,lineOp){
  const p=defs.append("pattern").attr("id",id).attr("width",size).attr("height",size).attr("patternUnits","userSpaceOnUse");
  if(base)p.append("rect").attr("width",size).attr("height",size).attr("fill",base);
  p.append("rect").attr("width",size).attr("height",1).attr("fill",lineCol).attr("opacity",lineOp);
  p.append("rect").attr("width",1).attr("height",size).attr("fill",lineCol).attr("opacity",lineOp);
  return p;
}
grid("retBase",3,"#B6B9EC","#ffffff",0.6);
grid("yelBase",3,"#FFFF3C","#ffffff",0.55);
grid("orgBase",3,"#FFD35A","#ffffff",0.45);
grid("retOver",3,null,"#C8CAF4",0.16);
grid("yelOver",3,null,"#FFFF80",0.3);
grid("orgOver",3,null,"#FFE9A0",0.3);
const vl=defs.append("pattern").attr("id","orgLines").attr("width",10).attr("height",10).attr("patternUnits","userSpaceOnUse");
vl.append("rect").attr("x",4).attr("width",1).attr("height",10).attr("fill","#F0B400").attr("opacity",0.7);
vl.append("rect").attr("y",4).attr("width",10).attr("height",1).attr("fill","#F5C400").attr("opacity",0.4);
const sh=defs.append("pattern").attr("id","shadow").attr("width",6).attr("height",6).attr("patternUnits","userSpaceOnUse");
sh.append("rect").attr("width",6).attr("height",6).attr("fill","#3a3a3a").attr("opacity",0.5);
sh.append("rect").attr("width",6).attr("height",1).attr("fill","#222").attr("opacity",0.6);
sh.append("rect").attr("width",1).attr("height",6).attr("fill","#222").attr("opacity",0.6);

// page background & frame
svg.append("rect").attr("width",W).attr("height",H).attr("fill","#EAEAEC");
svg.append("rect").attr("x",6).attr("y",8).attr("width",W-6).attr("height",3).attr("fill","#B9B9BB");
svg.append("rect").attr("x",6).attr("y",8).attr("width",3).attr("height",H-8).attr("fill","#B9B9BB");
svg.append("rect").attr("x",49).attr("y",73).attr("width",1080).attr("height",608).attr("fill","#ffffff");

// bands
const bandBase=["url(#retBase)","url(#yelBase)","url(#orgBase)"];
const bandOver=["url(#retOver)","url(#yelOver)","url(#orgOver)"];
const bandTint=[null,"#FFFF40","#FFD050"];
const bandIdx=[0,1,3];
const bg=svg.append("g");
bandIdx.forEach((bi,k)=>{
  bg.append("rect").attr("x",x(bandStart[bi])).attr("y",y(100)).attr("width",x(bandEnd[bi])-x(bandStart[bi])).attr("height",y(0)-y(100)).attr("fill",bandBase[k]);
  if(k===2)bg.append("rect").attr("x",x(bandStart[bi])).attr("y",y(100)).attr("width",x(bandEnd[bi])-x(bandStart[bi])).attr("height",y(0)-y(100)).attr("fill","url(#orgLines)");
});

// gridlines
svg.append("g").selectAll("line").data(yTicksBn.filter(d=>d>0)).join("line")
  .attr("x1",x(0)).attr("x2",x(500)).attr("y1",d=>y(d)).attr("y2",d=>y(d))
  .attr("stroke","#9a9a9a").attr("stroke-opacity",0.5).attr("stroke-width",1);

// points
const ms=3.3;
svg.append("g").selectAll("rect").data(events).join("rect")
  .attr("x",d=>x(d.x)-ms/2).attr("y",d=>y(d.y)-ms/2).attr("width",ms).attr("height",ms)
  .attr("fill","#000080");

// band overlays over points
const og=svg.append("g");
bandIdx.forEach((bi,k)=>{
  const X0=x(bandStart[bi]),Wd=x(bandEnd[bi])-X0;
  if(bandTint[k])og.append("rect").attr("x",X0).attr("y",y(100)).attr("width",Wd).attr("height",y(0)-y(100)).attr("fill",bandTint[k]).attr("opacity",0.22);
  og.append("rect").attr("x",X0).attr("y",y(100)).attr("width",Wd).attr("height",y(0)-y(100)).attr("fill",bandOver[k]);
});

// trigger line
svg.append("line").attr("x1",x(0)).attr("x2",x(500)+3).attr("y1",y(triggerBn)).attr("y2",y(triggerBn))
  .attr("stroke","#E5484E").attr("stroke-width",1.3);

// XL layer box
svg.append("rect").attr("x",x(xlBox[0])).attr("y",y(xlBox[3])).attr("width",x(xlBox[1])-x(xlBox[0])).attr("height",y(xlBox[2])-y(xlBox[3]))
  .attr("fill","none").attr("stroke","#0000FF").attr("stroke-width",6);

// axes
const ya=svg.append("g").attr("transform",`translate(${x(0)},0)`)
  .call(d3.axisLeft(y).tickValues(yTicksBn).tickFormat((d,i)=>yTickLabels[i]).tickSize(5).tickPadding(4));
ya.select(".domain").attr("stroke","#000").attr("stroke-width",1.6);
ya.selectAll("line").attr("stroke","#000");
ya.selectAll("text").attr("font-size",10).attr("fill","#222").style("font-family","Arial, 'Liberation Sans', sans-serif");
const xa=svg.append("g").attr("transform",`translate(0,${y(0)})`)
  .call(d3.axisBottom(x).tickValues(xTicks).tickFormat(d3.format("d")).tickSize(-4).tickPadding(10));
xa.select(".domain").attr("stroke","#444").attr("stroke-width",1.2);
xa.selectAll("line").attr("stroke","#444");
xa.selectAll("text").attr("font-size",10).attr("fill","#222").style("font-family","Arial, 'Liberation Sans', sans-serif");

// axis titles
svg.append("text").attr("x",619).attr("y",661).attr("text-anchor","middle").attr("font-size",10).attr("font-weight","bold").attr("letter-spacing",0.6).attr("fill","#111").text("Company Loss ($m)");
svg.append("text").attr("transform","translate(74,368) rotate(-90)").attr("text-anchor","middle").attr("font-size",10).attr("font-weight","bold").attr("letter-spacing",0.4).attr("fill","#111").text("Industry Loss ($m)");

// braces
function brace(x0,x1,xm){
  const yb=105,yf=98,yp=89;
  return `M${x0},${yb} Q${x0},${yf} ${x0+12},${yf} L${xm-10},${yf} Q${xm},${yf} ${xm},${yp} Q${xm},${yf} ${xm+10},${yf} L${x1-12},${yf} Q${x1},${yf} ${x1},${yb}`;
}
const braceRanges=[[4.6,50.5,27.6],[52.5,99.5,76.6],[99.5,251.5,175.4],[251.5,400.6,326.5]];
svg.append("g").selectAll("path").data(braceRanges).join("path")
  .attr("d",d=>brace(x(d[0]),x(d[1]),x(d[2]))).attr("fill","none").attr("stroke","#000").attr("stroke-width",2);

// layer labels
const lblCol="#2B2B86";
function lbl(t,xx,yy,anchor){svg.append("text").attr("x",xx).attr("y",yy).attr("text-anchor",anchor||"middle").attr("font-size",13.5).attr("fill",lblCol).text(t);}
lbl(bandNames[0],193,73);
lbl("$50M xs",290,59);lbl("$50M",291,76);
lbl(bandNames[2],483,74);
lbl(bandNames[3],773,76);
lbl("No",961,86,"start");lbl("Reinsurance",961,102,"start");
svg.append("line").attr("x1",961).attr("x2",1043).attr("y1",109).attr("y2",109).attr("stroke","#000").attr("stroke-width",2).attr("stroke-dasharray","7,5");
svg.append("path").attr("d","M1043,102 L1058,109 L1043,116 Z").attr("fill","#000");

// trigger label
svg.append("text").attr("x",948).attr("y",482).attr("font-size",13).attr("font-weight","bold").attr("fill","#111").text("$25bn Wind JLW Trigger");

// table with shadow
svg.append("rect").attr("x",883).attr("y",190).attr("width",370).attr("height",103).attr("fill","url(#shadow)");
svg.append("rect").attr("x",867.5).attr("y",174.5).attr("width",372).attr("height",101.5).attr("fill","#fff").attr("stroke","#000").attr("stroke-width",3);
svg.append("text").attr("x",879).attr("y",192).attr("font-size",13).attr("font-weight","bold").attr("fill","#000").text("Comparison of Event Coverage");
svg.append("text").attr("x",1227).attr("y",192).attr("text-anchor","end").attr("font-size",13).attr("font-weight","bold").attr("fill","#000").text("Total");
svg.append("line").attr("x1",877).attr("x2",1231).attr("y1",195.5).attr("y2",195.5).attr("stroke","#000").attr("stroke-width",1.5);
const rowY=[210,228,245,263];
tableRows.forEach((t,i)=>{
  svg.append("text").attr("x",879).attr("y",rowY[i]).attr("font-size",12.8).attr("fill","#111").text(t);
  svg.append("text").attr("x",i===3?1227:1222).attr("y",rowY[i]).attr("text-anchor","end").attr("font-size",12.8).attr("fill","#111").text(tableVals[i]);
});
</script></body></html>
